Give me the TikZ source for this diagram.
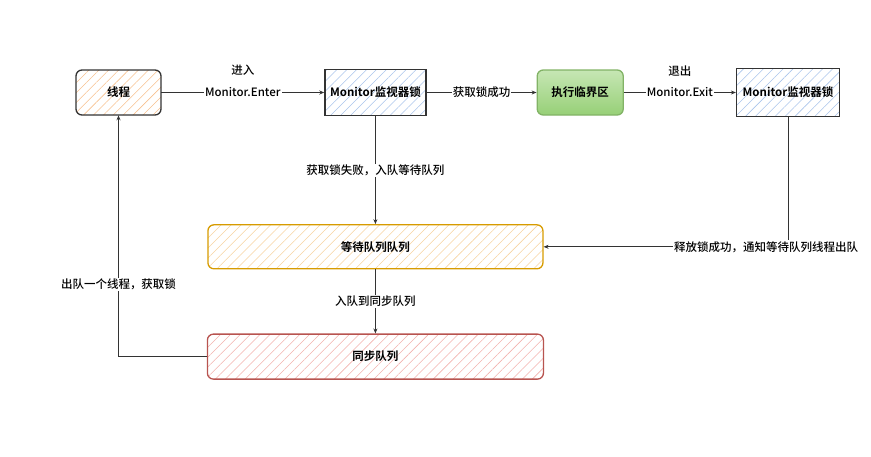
\documentclass[tikz,border=0pt]{standalone}
\usepackage{fontspec}
\setmainfont{Noto Sans CJK SC}[BoldFont={Noto Sans CJK SC Bold}]
\newfontfamily\labelfont{Noto Sans CJK SC Medium}
\usetikzlibrary{positioning,arrows.meta,patterns.meta}

\definecolor{edgegray}{HTML}{333333}
\definecolor{hatchorange}{HTML}{F7C08E}
\definecolor{hatchblue}{HTML}{A9C4EB}
\definecolor{waitline}{HTML}{D79B00}
\definecolor{hatchwait}{HTML}{F6D3A0}
\definecolor{syncline}{HTML}{B85450}
\definecolor{hatchsync}{HTML}{F2B1AD}
\definecolor{critline}{HTML}{82B366}
\definecolor{crittop}{HTML}{C6E6B4}
\definecolor{critbot}{HTML}{97D077}

\tikzset{
	hatched/.style={pattern={Lines[angle=45,distance=7pt,line width=0.55pt]}, pattern color=#1},
	box/.style={draw=edgegray, line width=1.3pt, inner sep=2pt, font=\fontsize{11.5}{13}\selectfont\bfseries},
	edgelabel/.style={fill=white, inner sep=1pt},
	flow/.style={draw=edgegray, line width=0.8pt, -{Stealth[length=5pt,width=4pt]}},
}

\begin{document}
\begin{tikzpicture}[x=1pt, y=-1pt, font=\fontsize{11.5}{13}\selectfont\labelfont]
	\useasboundingbox (0,0) rectangle (871,456);
	% top row
	\node[box, hatched=hatchorange, rounded corners=6pt, minimum width=85pt, minimum height=45pt] (thread) at (118.5,92.5) {线程};
	\node[box, hatched=hatchblue, minimum width=101pt, minimum height=46pt, right=163pt of thread] (mon1) {Monitor监视器锁};
	\node[box, draw=critline, top color=crittop, bottom color=critbot, rounded corners=6pt, minimum width=86pt, minimum height=45pt, right=110pt of mon1] (crit) {执行临界区};
	\node[box, hatched=hatchblue, minimum width=103pt, minimum height=48pt, right=112pt of crit] (mon2) {Monitor监视器锁};
	% queues
	\node[box, draw=waitline, hatched=hatchwait, rounded corners=6pt, minimum width=335pt, minimum height=44pt, below=108pt of mon1] (wait) {等待队列队列};
	\node[box, draw=syncline, hatched=hatchsync, rounded corners=6pt, minimum width=336pt, minimum height=45pt, below=64pt of wait] (sync) {同步队列};

	\draw[flow] (thread) -- node[edgelabel] (enter) {Monitor.Enter} (mon1);
	\node[above=8pt of enter] {进入};
	\draw[flow] (mon1) -- node[edgelabel] {获取锁成功} (crit);
	\draw[flow] (crit) -- node[edgelabel] (exit) {Monitor.Exit} (mon2);
	\node[above=6pt of exit] {退出};
	\draw[flow] (mon1) -- node[edgelabel] {获取锁失败，入队等待队列} (wait);
	\draw[flow] (mon2) |- node[edgelabel, pos=0.545] {释放锁成功，通知等待队列线程出队} (wait);
	\draw[flow] (wait) -- node[edgelabel] {入队到同步队列} (sync);
	\draw[flow] (sync) -| node[edgelabel, pos=0.65] {出队一个线程，获取锁} (thread);
\end{tikzpicture}
\end{document}
